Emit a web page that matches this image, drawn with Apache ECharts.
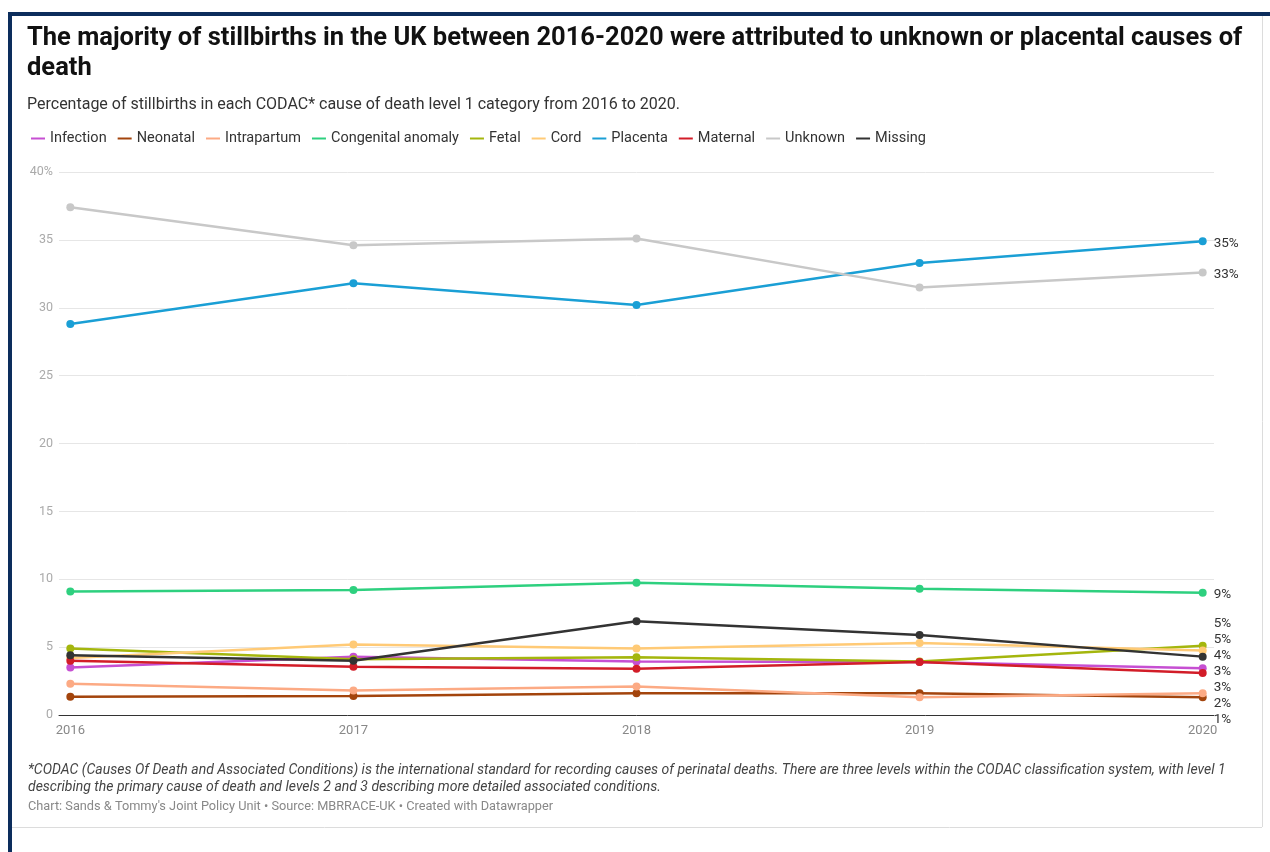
<!DOCTYPE html>
<html>
<head>
<meta charset="utf-8">
<script src="https://cdn.jsdelivr.net/npm/echarts@6/dist/echarts.min.js"></script>
<style>
html,body{margin:0;padding:0;background:#fff;}
#chart{width:1270px;height:852px;}
</style>
</head>
<body>
<div id="chart"></div>
<script>
// ---- Data ----
const years = [2016, 2017, 2018, 2019, 2020];
const seriesNames = ['Infection', 'Neonatal', 'Intrapartum', 'Congenital anomaly', 'Fetal', 'Cord', 'Placenta', 'Maternal', 'Unknown', 'Missing'];
const infection   = [3.5, 4.3, 3.95, 3.9, 3.45];
const neonatal    = [1.35, 1.4, 1.6, 1.6, 1.3];
const intrapartum = [2.3, 1.8, 2.1, 1.3, 1.6];
const congenital  = [9.1, 9.2, 9.75, 9.3, 9.0];
const fetal       = [4.9, 4.1, 4.25, 3.95, 5.1];
const cord        = [4.2, 5.2, 4.9, 5.3, 4.75];
const placenta    = [28.8, 31.8, 30.2, 33.3, 34.9];
const maternal    = [4.0, 3.55, 3.4, 3.9, 3.1];
const unknown     = [37.4, 34.6, 35.1, 31.5, 32.6];
const missing     = [4.4, 4.0, 6.9, 5.9, 4.3];
const yTicks = [0, 5, 10, 15, 20, 25, 30, 35, 40];

const allValues = [infection, neonatal, intrapartum, congenital, fetal, cord, placenta, maternal, unknown, missing];
const colors = ['#c64fd2', '#a3440c', '#fcaa84', '#2ed07f', '#a4b60d', '#ffca76', '#1a9fd5', '#d21d28', '#c8c8c8', '#333333'];

const chart = echarts.init(document.getElementById('chart'), null, {renderer: 'canvas'});
const FONT = 'Roboto, "Noto Sans", sans-serif';

function buildSeries(offsets) {
  return seriesNames.map((name, i) => ({
    name: name,
    type: 'line',
    data: years.map((y, j) => [y, allValues[i][j]]),
    color: colors[i],
    symbol: 'circle',
    symbolSize: 8,
    showSymbol: true,
    lineStyle: {width: 2.5, color: colors[i]},
    itemStyle: {color: colors[i]},
    emphasis: {disabled: true},
    endLabel: {
      show: true,
      distance: 11,
      offset: [0, offsets ? offsets[i] : 0],
      formatter: p => Math.round(p.value[1]) + '%',
      color: '#333',
      fontFamily: FONT,
      fontSize: 13.5
    },
    z: 2 + i
  }));
}

const option = {
  animation: false,
  textStyle: {fontFamily: FONT},
  title: [
    {
      text: 'The majority of stillbirths in the UK between 2016-2020 were attributed to unknown or placental causes of\ndeath',
      left: 27, top: 24, padding: 0,
      textStyle: {fontFamily: FONT, fontWeight: 'bold', fontSize: 25.5, lineHeight: 30, color: '#111'}
    },
    {
      text: 'Percentage of stillbirths in each CODAC* cause of death level 1 category from 2016 to 2020.',
      left: 27, top: 97, padding: 0,
      textStyle: {fontFamily: FONT, fontWeight: 'normal', fontSize: 16, color: '#333'}
    },
    {
      text: '*CODAC (Causes Of Death and Associated Conditions) is the international standard for recording causes of perinatal deaths. There are three levels within the CODAC classification system, with level 1\ndescribing the primary cause of death and levels 2 and 3 describing more detailed associated conditions.',
      left: 28, top: 762, padding: 0,
      textStyle: {fontFamily: FONT, fontWeight: 'normal', fontStyle: 'italic', fontSize: 14, lineHeight: 17, color: '#444'}
    },
    {
      text: "Chart: Sands & Tommy's Joint Policy Unit • Source: MBRRACE-UK • Created with Datawrapper",
      left: 28, top: 800, padding: 0,
      textStyle: {fontFamily: FONT, fontWeight: 'normal', fontSize: 12.75, color: '#888'}
    }
  ],
  legend: {
    left: 31, top: 131, padding: 0,
    icon: 'rect', itemWidth: 14, itemHeight: 2, itemGap: 11,
    textStyle: {fontFamily: FONT, fontSize: 14.5, color: '#333'},
    data: seriesNames
  },
  grid: {left: 59, right: 56, top: 172, bottom: 137, containLabel: false},
  xAxis: {
    type: 'value',
    min: 2016 - 0.04, max: 2020 + 0.04,
    splitLine: {show: false},
    axisTick: {show: false},
    axisLine: {show: true, onZero: true, lineStyle: {color: '#333', width: 1}},
    axisLabel: {
      customValues: years,
      margin: 9,
      color: '#888', fontSize: 13, fontFamily: FONT,
      formatter: v => String(v)
    }
  },
  yAxis: {
    type: 'value',
    min: 0, max: 40, interval: 5,
    axisLine: {show: false},
    axisTick: {show: false},
    splitLine: {lineStyle: {color: '#e6e6e6', width: 1}},
    axisLabel: {
      margin: 6, color: '#aaa', fontSize: 12.5, fontFamily: FONT,
      formatter: v => (v === 40 ? '40%' : String(v))
    }
  },
  graphic: [
    {type: 'rect', silent: true, shape: {x: 8, y: 12, width: 4, height: 840}, style: {fill: '#0c2d5c'}, z: 100},
    {type: 'rect', silent: true, shape: {x: 8, y: 12, width: 1262, height: 4}, style: {fill: '#0c2d5c'}, z: 100},
    {type: 'line', silent: true, shape: {x1: 1262.5, y1: 16, x2: 1262.5, y2: 827}, style: {stroke: '#dcdcdc', lineWidth: 1}},
    {type: 'line', silent: true, shape: {x1: 12, y1: 827.5, x2: 1262, y2: 827.5}, style: {stroke: '#dcdcdc', lineWidth: 1}}
  ],
  series: buildSeries(null)
};

chart.setOption(option);

// Spread the end labels so they do not overlap (code-driven layout)
(function spreadLabels() {
  const minGap = 16;
  const items = seriesNames.map((n, i) => {
    const last = allValues[i][allValues[i].length - 1];
    const py = chart.convertToPixel({gridIndex: 0}, [years[years.length - 1], last])[1];
    return {i: i, y: py};
  }).sort((a, b) => a.y - b.y);
  let groups = items.map(it => ({members: [it]}));
  function place(g) {
    const n = g.members.length;
    const mean = g.members.reduce((s, m) => s + m.y, 0) / n;
    g.top = mean - (n - 1) * minGap / 2;
    g.bottom = g.top + (n - 1) * minGap;
  }
  groups.forEach(place);
  let changed = true;
  while (changed) {
    changed = false;
    for (let k = 0; k < groups.length - 1; k++) {
      if (groups[k].bottom + minGap > groups[k + 1].top) {
        groups[k].members = groups[k].members.concat(groups[k + 1].members);
        groups.splice(k + 1, 1);
        place(groups[k]);
        changed = true;
        break;
      }
    }
  }
  const offsets = new Array(seriesNames.length).fill(0);
  groups.forEach(g => {
    g.members.forEach((m, idx) => {
      offsets[m.i] = g.top + idx * minGap - m.y + 2;
    });
  });
  chart.setOption({series: buildSeries(offsets)});
})();
</script>
</body>
</html>
